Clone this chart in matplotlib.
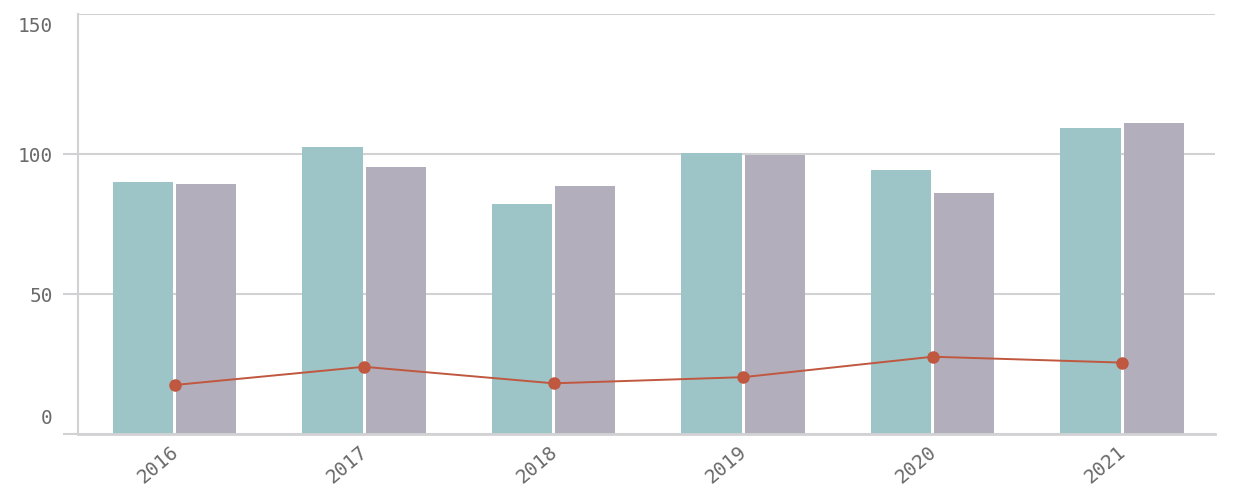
import matplotlib
matplotlib.use("Agg")
import matplotlib.pyplot as plt
import matplotlib.transforms as mtrans
import numpy as np

years = ["2016", "2017", "2018", "2019", "2020", "2021"]
series_a = [90.1, 102.4, 82.1, 100.5, 94.3, 109.2]
series_b = [89.4, 95.5, 88.4, 99.6, 86.2, 111.2]
line_vals = [17.5, 24.0, 18.1, 20.3, 27.6, 25.5]
yticks = [0, 50, 100, 150]

teal = "#9dc4c7"
mauve = "#b3aebb"
red = "#c0573f"
grid_c = "#d2d2d4"
text_c = "#6a6a6a"

fig = plt.figure(figsize=(12.45, 4.95), dpi=100)
ax = fig.add_axes([78/1245, 61/495, (1215-78)/1245, (434-14)/495])

x = np.arange(len(years))
w = 0.317
ax.bar(x - 0.167, series_a, width=w, color=teal, zorder=2)
ax.bar(x + 0.167, series_b, width=w, color=mauve, zorder=2)
ax.plot(x, line_vals, color=red, lw=1.4, marker="o", markersize=8, zorder=3)

ax.set_xlim(-0.51, 5.49)
ax.set_ylim(0, 150)
ax.set_yticks(yticks)
ax.set_yticklabels([str(t) for t in yticks])
ax.yaxis.grid(True, color=grid_c, lw=1.5, zorder=0)
ax.set_axisbelow(True)

for s in ["top", "right"]:
    ax.spines[s].set_visible(False)
ax.spines["left"].set_color(grid_c)
ax.spines["left"].set_linewidth(1.5)
ax.spines["bottom"].set_color(grid_c)
ax.spines["bottom"].set_linewidth(2)

ax.tick_params(axis="y", length=11, width=1.5, color=grid_c, pad=7,
               labelsize=14, labelcolor=text_c)
ax.yaxis.get_major_ticks()[-1].tick1line.set_visible(False)
ylabs = ax.get_yticklabels()
for lab in ylabs:
    lab.set_family("DejaVu Sans Mono")
# vertical offsets of first / last labels as in the reference
ylabs[0].set_transform(ylabs[0].get_transform() +
                       mtrans.ScaledTranslation(0, 17/100, fig.dpi_scale_trans))
ylabs[-1].set_transform(ylabs[-1].get_transform() +
                        mtrans.ScaledTranslation(0, -11/100, fig.dpi_scale_trans))

ax.set_xticks(x)
ax.set_xticklabels(years, rotation=40, ha="right", rotation_mode="anchor",
                   family="DejaVu Sans Mono", fontsize=14, color=text_c)
ax.tick_params(axis="x", length=0, pad=6)
for lab in ax.get_xticklabels():
    lab.set_transform(lab.get_transform() +
                      mtrans.ScaledTranslation(-5/100, 0, fig.dpi_scale_trans))

fig.savefig("out.png", dpi=100)
